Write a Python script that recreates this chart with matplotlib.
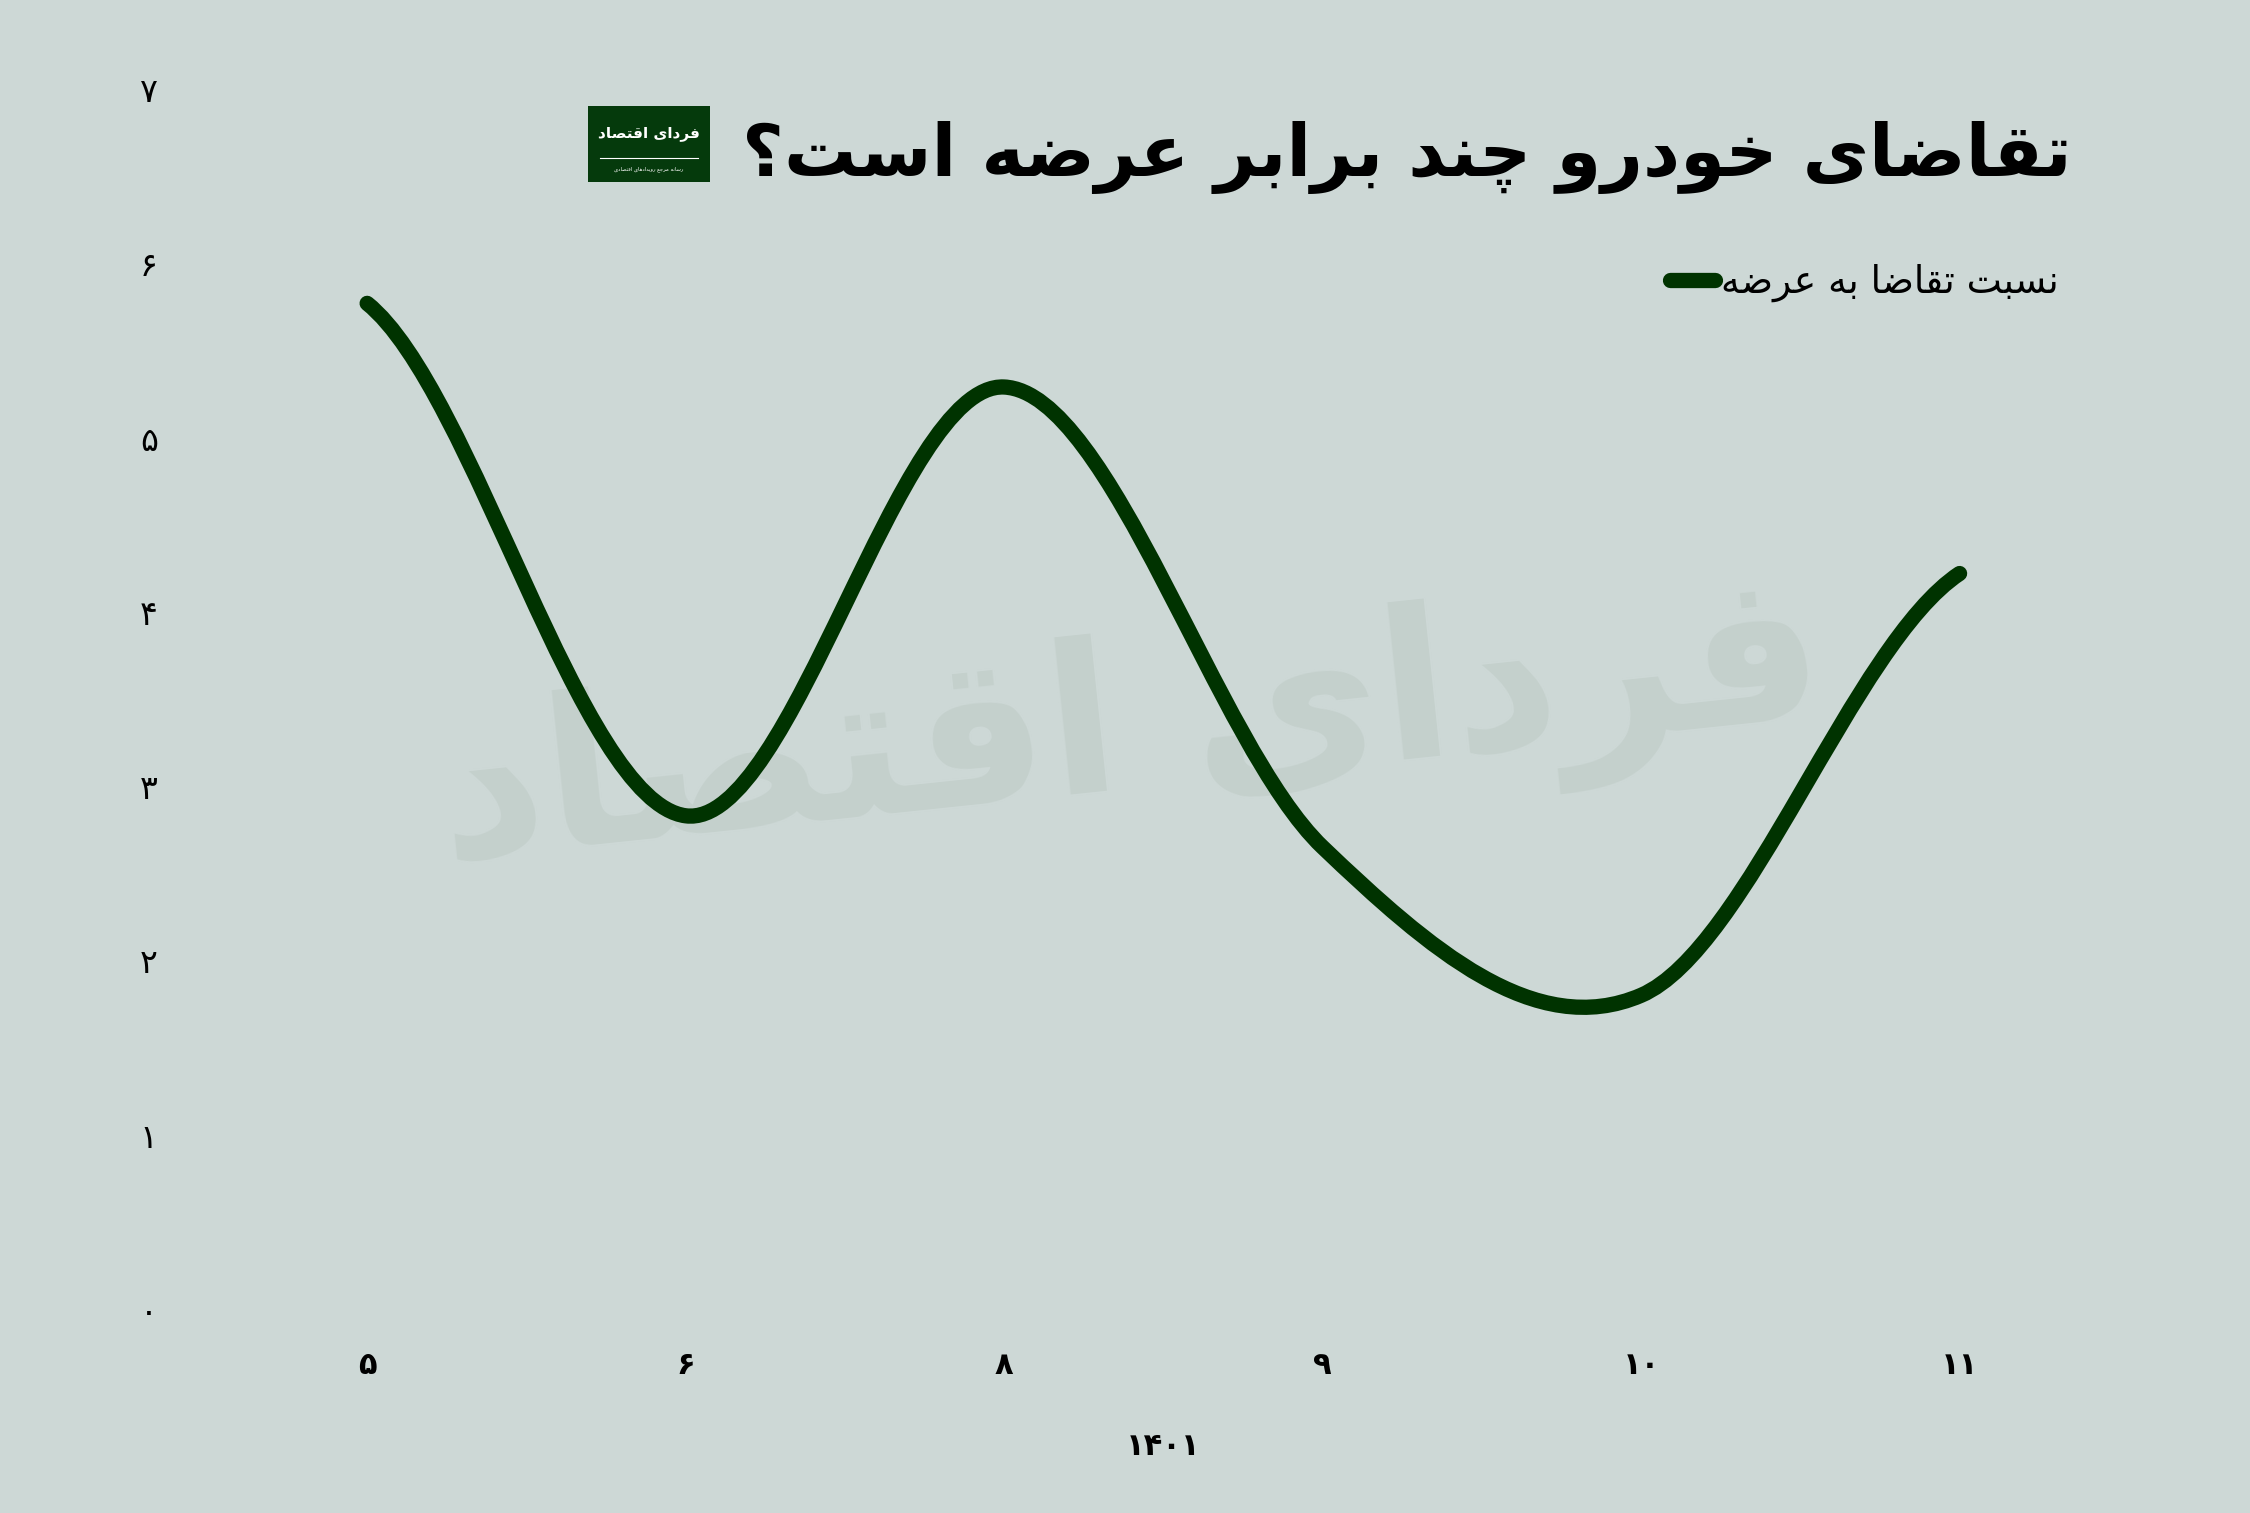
import matplotlib
matplotlib.use("Agg")
import matplotlib.pyplot as plt
from matplotlib.path import Path
from matplotlib.patches import PathPatch, Rectangle
from matplotlib.lines import Line2D
import numpy as np

# data
months = ["۵", "۶", "۸", "۹", "۱۰", "۱۱"]
ratio = [5.77, 2.83, 5.29, 2.65, 1.80, 4.22]
y_ticks = [0, 1, 2, 3, 4, 5, 6, 7]
y_labels = ["۰", "۱", "۲", "۳", "۴", "۵", "۶", "۷"]
year_label = "۱۴۰۱"
title = "تقاضای خودرو چند برابر عرضه است؟"
series_name = "نسبت تقاضا به عرضه"
brand = "فردای اقتصاد"
brand_sub = "رسانه مرجع رویدادهای اقتصادی"

BG = "#cdd8d6"
LINE = "#003300"

# crude persian shaping: presentation forms + reversed order
FORMS = {
    'ا': ('\uFE8D', '\uFE8E'), 'آ': ('\uFE81', '\uFE82'),
    'ب': ('\uFE8F', '\uFE90', '\uFE91', '\uFE92'), 'پ': ('\uFB56', '\uFB57', '\uFB58', '\uFB59'),
    'ت': ('\uFE95', '\uFE96', '\uFE97', '\uFE98'), 'ث': ('\uFE99', '\uFE9A', '\uFE9B', '\uFE9C'),
    'ج': ('\uFE9D', '\uFE9E', '\uFE9F', '\uFEA0'), 'چ': ('\uFB7A', '\uFB7B', '\uFB7C', '\uFB7D'),
    'ح': ('\uFEA1', '\uFEA2', '\uFEA3', '\uFEA4'), 'خ': ('\uFEA5', '\uFEA6', '\uFEA7', '\uFEA8'),
    'د': ('\uFEA9', '\uFEAA'), 'ذ': ('\uFEAB', '\uFEAC'), 'ر': ('\uFEAD', '\uFEAE'),
    'ز': ('\uFEAF', '\uFEB0'), 'ژ': ('\uFB8A', '\uFB8B'),
    'س': ('\uFEB1', '\uFEB2', '\uFEB3', '\uFEB4'), 'ش': ('\uFEB5', '\uFEB6', '\uFEB7', '\uFEB8'),
    'ص': ('\uFEB9', '\uFEBA', '\uFEBB', '\uFEBC'), 'ض': ('\uFEBD', '\uFEBE', '\uFEBF', '\uFEC0'),
    'ط': ('\uFEC1', '\uFEC2', '\uFEC3', '\uFEC4'), 'ظ': ('\uFEC5', '\uFEC6', '\uFEC7', '\uFEC8'),
    'ع': ('\uFEC9', '\uFECA', '\uFECB', '\uFECC'), 'غ': ('\uFECD', '\uFECE', '\uFECF', '\uFED0'),
    'ف': ('\uFED1', '\uFED2', '\uFED3', '\uFED4'), 'ق': ('\uFED5', '\uFED6', '\uFED7', '\uFED8'),
    'ک': ('\uFB8E', '\uFB8F', '\uFB90', '\uFB91'), 'گ': ('\uFB92', '\uFB93', '\uFB94', '\uFB95'),
    'ل': ('\uFEDD', '\uFEDE', '\uFEDF', '\uFEE0'), 'م': ('\uFEE1', '\uFEE2', '\uFEE3', '\uFEE4'),
    'ن': ('\uFEE5', '\uFEE6', '\uFEE7', '\uFEE8'), 'و': ('\uFEED', '\uFEEE'),
    'ه': ('\uFEE9', '\uFEEA', '\uFEEB', '\uFEEC'), 'ی': ('\uFBFC', '\uFBFD', '\uFBFE', '\uFBFF'),
}


def fa(text):
    out = []
    for i, ch in enumerate(text):
        if ch not in FORMS:
            out.append(ch)
            continue
        prev = text[i - 1] if i > 0 else ''
        nxt = text[i + 1] if i + 1 < len(text) else ''
        joins_prev = prev in FORMS and len(FORMS[prev]) == 4
        joins_next = len(FORMS[ch]) == 4 and nxt in FORMS
        f = FORMS[ch]
        if joins_prev and joins_next:
            out.append(f[3])
        elif joins_prev:
            out.append(f[1])
        elif joins_next:
            out.append(f[2])
        else:
            out.append(f[0])
    return ''.join(out[::-1])


plt.rcParams['font.family'] = ['DejaVu Sans']

fig = plt.figure(figsize=(22.5, 15.13), dpi=100, facecolor=BG)
ax = fig.add_axes([0.0924, 0.1348, 0.8493, 0.8064])
ax.set_facecolor(BG)

# watermark
ax.text(2.4, 3.3, fa(brand), fontsize=150, fontweight='bold', color='#c4d0cc',
        ha='center', va='center', rotation=6, zorder=0)

# smooth line (catmull-rom as cubic bezier)
x = np.arange(len(ratio), dtype=float)
y = np.array(ratio)
m = np.zeros_like(y)
m[1:-1] = (y[2:] - y[:-2]) / 2
m[0] = (y[1] - y[0]) / 2
m[-1] = (y[-1] - y[-2]) / 2
verts = [(x[0], y[0])]
codes = [Path.MOVETO]
for i in range(len(x) - 1):
    verts += [(x[i] + 1 / 3, y[i] + m[i] / 3),
              (x[i + 1] - 1 / 3, y[i + 1] - m[i + 1] / 3),
              (x[i + 1], y[i + 1])]
    codes += [Path.CURVE4] * 3
ax.add_patch(PathPatch(Path(verts, codes), fill=False, edgecolor=LINE, lw=11,
                       capstyle='round', joinstyle='round', clip_on=False, zorder=3))

ax.set_xlim(-0.5, 5.5)
ax.set_ylim(0, 7)
ax.set_xticks(x)
ax.set_xticklabels(months, fontsize=22, fontweight='bold')
ax.set_yticks(y_ticks)
ax.set_yticklabels(y_labels, fontsize=24)
ax.tick_params(axis='x', length=0, pad=30)
ax.tick_params(axis='y', length=0, pad=36)
for s in ax.spines.values():
    s.set_visible(False)
ax.set_xlabel(year_label, fontsize=22, fontweight='bold', labelpad=38)

# title
fig.text(0.921, 0.8956, fa(title), fontsize=52, fontweight='bold', ha='right', va='center')

# logo block
fig.patches.append(Rectangle((0.2613, 0.8797), 0.0542, 0.0502, transform=fig.transFigure,
                             facecolor='#053a0c', edgecolor='none'))
fig.text(0.2884, 0.9115, fa(brand), fontsize=11, fontweight='bold', color='white',
         ha='center', va='center')
fig.add_artist(Line2D([0.2665, 0.3100], [0.8955, 0.8955], transform=fig.transFigure,
                      color='white', lw=0.8))
fig.text(0.2884, 0.8885, fa(brand_sub), fontsize=3.8, color='white', ha='center', va='center')

# legend
handle = Line2D([], [], color=LINE, lw=11, solid_capstyle='round')
ax.legend([handle], [fa(series_name)], loc='center right', bbox_to_anchor=(0.915, 0.813),
          bbox_transform=fig.transFigure, frameon=False, markerfirst=True,
          fontsize=27, handlelength=1.2, handletextpad=0.15, borderpad=0, borderaxespad=0)

fig.savefig("out.png", dpi=100, facecolor=BG)
